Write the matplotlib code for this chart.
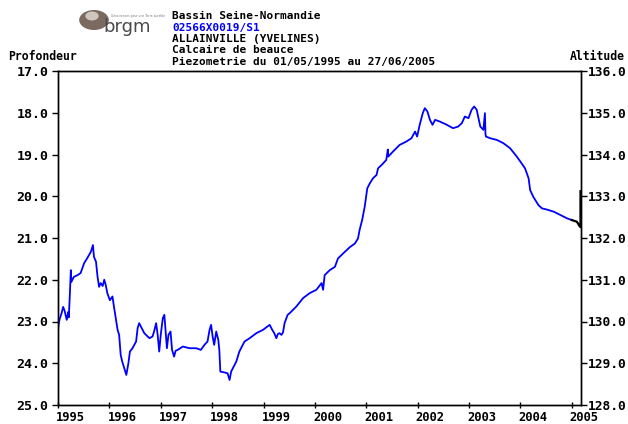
import matplotlib
matplotlib.use("Agg")
import matplotlib.pyplot as plt
import matplotlib.transforms as mtransforms
from matplotlib.patches import Circle

# ---- data (decimal years, depth in m) ----
years = [1995.33, 1995.34, 1995.36, 1995.40, 1995.43, 1995.46, 1995.50, 1995.53, 1995.54,
         1995.56, 1995.58, 1995.59, 1995.64, 1995.71, 1995.77, 1995.84, 1995.90, 1995.97,
         1996.01, 1996.03, 1996.07, 1996.10, 1996.13, 1996.16, 1996.20, 1996.23, 1996.26,
         1996.29, 1996.34, 1996.39, 1996.42, 1996.46, 1996.49, 1996.52, 1996.55, 1996.58,
         1996.62, 1996.66, 1996.70, 1996.73, 1996.78, 1996.85, 1996.88, 1996.91, 1996.96,
         1997.01, 1997.11, 1997.17, 1997.20, 1997.24, 1997.27, 1997.30, 1997.33, 1997.37,
         1997.40, 1997.42, 1997.45, 1997.48, 1997.52, 1997.55, 1997.59, 1997.62, 1997.66,
         1997.76, 1997.89, 1998.02, 1998.11, 1998.18, 1998.24, 1998.28, 1998.31, 1998.34,
         1998.37, 1998.41, 1998.45, 1998.47, 1998.49, 1998.57, 1998.63, 1998.67, 1998.70,
         1998.80, 1998.86, 1998.96, 1999.06, 1999.19, 1999.32, 1999.45, 1999.50, 1999.54,
         1999.58, 1999.61, 1999.64, 1999.68, 1999.71, 1999.74, 1999.80, 1999.84, 1999.97,
         2000.10, 2000.23, 2000.36, 2000.46, 2000.49, 2000.52, 2000.62, 2000.72, 2000.78,
         2000.88, 2001.01, 2001.11, 2001.17, 2001.20, 2001.25, 2001.30, 2001.35, 2001.40,
         2001.46, 2001.53, 2001.56, 2001.63, 2001.72, 2001.75, 2001.76, 2001.85, 2001.98,
         2002.11, 2002.21, 2002.28, 2002.32, 2002.37, 2002.43, 2002.47, 2002.52, 2002.57,
         2002.62, 2002.67, 2002.76, 2002.90, 2003.02, 2003.12, 2003.19, 2003.25, 2003.32,
         2003.38, 2003.43, 2003.48, 2003.55, 2003.61, 2003.64, 2003.65, 2003.66, 2003.74,
         2003.87, 2004.00, 2004.13, 2004.26, 2004.33, 2004.42, 2004.49, 2004.52, 2004.58,
         2004.68, 2004.75, 2004.85, 2004.98, 2005.11, 2005.24, 2005.33]
depth = [23.24, 23.08, 22.95, 22.80, 22.65, 22.75, 22.96, 22.77, 22.90,
         22.37, 21.77, 22.05, 21.93, 21.89, 21.84, 21.60, 21.48, 21.33,
         21.17, 21.45, 21.57, 21.93, 22.17, 22.08, 22.15, 22.00, 22.13,
         22.32, 22.49, 22.40, 22.65, 22.96, 23.20, 23.32, 23.80, 23.96,
         24.12, 24.28, 24.00, 23.72, 23.64, 23.48, 23.16, 23.04, 23.16,
         23.28, 23.40, 23.36, 23.24, 23.04, 23.32, 23.72, 23.32, 22.92,
         22.84, 23.16, 23.64, 23.32, 23.24, 23.68, 23.84, 23.70, 23.68,
         23.60, 23.64, 23.64, 23.68, 23.56, 23.48, 23.20, 23.08, 23.36,
         23.56, 23.24, 23.44, 23.68, 24.20, 24.22, 24.24, 24.40, 24.20,
         23.96, 23.72, 23.48, 23.40, 23.28, 23.20, 23.08, 23.20, 23.28,
         23.40, 23.30, 23.28, 23.32, 23.26, 23.04, 22.84, 22.80, 22.64,
         22.44, 22.32, 22.24, 22.08, 22.24, 21.89, 21.77, 21.69, 21.49,
         21.37, 21.22, 21.13, 21.01, 20.81, 20.57, 20.25, 19.81, 19.69,
         19.57, 19.49, 19.33, 19.25, 19.13, 18.88, 19.05, 18.93, 18.77,
         18.69, 18.61, 18.45, 18.57, 18.29, 18.01, 17.89, 17.97, 18.17,
         18.29, 18.17, 18.21, 18.29, 18.37, 18.33, 18.25, 18.09, 18.13,
         17.93, 17.85, 17.93, 18.33, 18.41, 18.01, 18.50, 18.57, 18.61,
         18.65, 18.73, 18.85, 19.05, 19.17, 19.33, 19.57, 19.85, 20.01,
         20.21, 20.29, 20.32, 20.37, 20.45, 20.53, 20.57]

# unvalidated (black) end segment
years_end = [2005.33, 2005.43, 2005.48, 2005.50, 2005.50]
depth_end = [20.57, 20.61, 20.71, 20.74, 19.88]

year_labels = ["1995", "1996", "1997", "1998", "1999", "2000",
               "2001", "2002", "2003", "2004", "2005"]
depth_ticks = [17.0, 18.0, 19.0, 20.0, 21.0, 22.0, 23.0, 24.0, 25.0]
alt_ticks = [136.0, 135.0, 134.0, 133.0, 132.0, 131.0, 130.0, 129.0, 128.0]
ref_alt = 153.0

title_lines = ["Bassin Seine-Normandie", "02566X0019/S1", "ALLAINVILLE (YVELINES)",
               "Calcaire de beauce", "Piezometrie du 01/05/1995 au 27/06/2005"]

W, H = 628, 424
fig = plt.figure(figsize=(W / 100, H / 100), dpi=100)
fig.patch.set_facecolor("white")


def fx(x):
    return x / W


def fy(y):
    return 1 - y / H


ax = fig.add_axes([fx(58), fy(405), fx(581) - fx(58), fy(71) - fy(405)])
ax.plot(years, depth, color="#0000ff", lw=1.3)
ax.plot(years_end, depth_end, color="black", lw=1.6)

x0 = 1995.33
ax.set_xlim(x0, 2005.51)
ax.set_ylim(25.0, 17.0)
ax.set_xticks([x0 + i for i in range(len(year_labels))])
ax.set_xticklabels(year_labels, ha="left")
ax.set_yticks(depth_ticks)
ax.set_yticklabels(["%.1f" % v for v in depth_ticks])

mono = "DejaVu Sans Mono"
for sp in ax.spines.values():
    sp.set_color("black")
    sp.set_linewidth(1.0)

ax.tick_params(axis="x", direction="inout", length=5, width=1, pad=2, labelsize=8.7)
ax.tick_params(axis="y", direction="out", length=4, width=1, pad=3, labelsize=9.5)
for lab in ax.get_xticklabels() + ax.get_yticklabels():
    lab.set_fontfamily(mono)
    lab.set_fontweight("bold")

offset = mtransforms.ScaledTranslation(-2 / 100, 0, fig.dpi_scale_trans)
for lab in ax.get_xticklabels():
    lab.set_transform(lab.get_transform() + offset)

ax2 = ax.twinx()
ax2.set_ylim(ref_alt - 25.0, ref_alt - 17.0)
ax2.set_yticks(alt_ticks)
ax2.set_yticklabels(["%.1f" % v for v in alt_ticks])
ax2.tick_params(axis="y", direction="out", length=4, width=1, pad=1, labelsize=9.3)
for lab in ax2.get_yticklabels():
    lab.set_fontfamily(mono)
    lab.set_fontweight("bold")
for sp in ax2.spines.values():
    sp.set_linewidth(1.0)

# header texts
ys = [16, 28, 39.3, 50.3, 61.5]
for i, (t, y) in enumerate(zip(title_lines, ys)):
    fig.text(fx(172), fy(y), t, fontsize=8.0, family=mono, fontweight="bold",
             color="#0000ff" if i == 1 else "black", va="center", ha="left")

fig.text(fx(8), fy(57), "Profondeur", fontsize=8.3, family=mono, fontweight="bold",
         va="center", ha="left")
fig.text(fx(625), fy(57), "Altitude", fontsize=8.3, family=mono, fontweight="bold",
         va="center", ha="right")

# logo
fig.patches.append(Circle((fx(94), fy(20)), 10 / H, transform=fig.transFigure,
                          facecolor="#7a6a60", edgecolor="none"))
fig.patches.append(Circle((fx(92), fy(16)), 4.5 / H, transform=fig.transFigure,
                          facecolor="#cfc6c0", edgecolor="none"))
fig.text(fx(103), fy(27), "brgm", fontsize=13, family="DejaVu Sans Condensed",
         color="#4a4a4a", va="center", ha="left")
fig.text(fx(111), fy(16), "Géosciences pour une Terre durable", fontsize=2.2,
         family="DejaVu Sans", color="#777777", va="center", ha="left")

fig.savefig("out.png", dpi=100)
